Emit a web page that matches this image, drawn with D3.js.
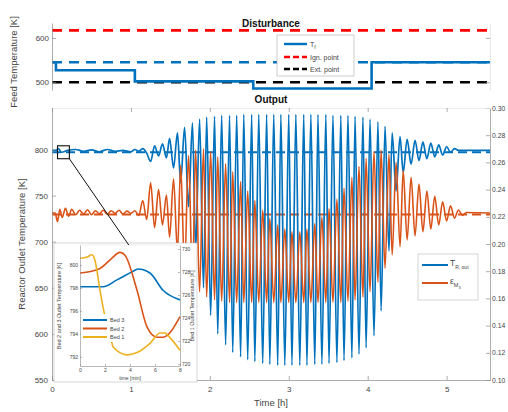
<!DOCTYPE html>
<html><head><meta charset="utf-8">
<script src="https://cdn.jsdelivr.net/npm/d3@7"></script>
<style>body{margin:0;background:#fff;} svg{font-family:"Liberation Sans",Arial,Helvetica,sans-serif;}</style>
</head><body><svg id="c" width="508" height="412"></svg>
<script>
// ---------------- DATA ----------------
// Disturbance panel (feed temperature, K)
const tfTimes  = [0, 0.05, 1.05, 2.55, 4.05, 5.55];
const tfValues = [545, 527, 502, 486, 545, 545];
const ignPoint = 617;
const extPoint = 500;
const tfRef = 545;
const topTicks = [500, 600];

// Output panel
const xTicks = [0, 1, 2, 3, 4, 5];
const leftTicks = [550, 600, 650, 700, 750, 800];
const rightTicks = [0.10, 0.12, 0.14, 0.16, 0.18, 0.20, 0.22, 0.24, 0.26, 0.28, 0.30];
const tempRef = 797;
const convRef = 0.2217;

// T_R,out before the instability
const tempPreTimes = [0,0.05,0.08,0.12,0.2,0.3,0.4,0.5,0.6,0.7,0.8,0.9,1.0,1.05,1.1,1.15,1.2,1.25,1.3,1.35];
const tempPreVals  = [799,799,801,797,799,800,798,799.5,797.5,800,798,799,797.5,800,798,801,796,787,804,793];
// extrema times of the oscillation (shared by both outputs)
const oscTimes = [1.40,1.45,1.49,1.54,1.59,1.63,1.68,1.73,1.78,1.82,1.87,1.92,1.96,2.01,2.06,2.10,2.15,2.20,2.25,2.29,2.34,2.39,2.43,2.48,2.53,2.57,2.62,2.67,2.72,2.76,2.81,2.86,2.90,2.95,3.00,3.04,3.09,3.14,3.19,3.23,3.28,3.33,3.37,3.42,3.47,3.51,3.56,3.61,3.66,3.70,3.75,3.80,3.84,3.89,3.94,3.98,4.03,4.08,4.13,4.17,4.22,4.27,4.31,4.36,4.41,4.45,4.50];
const tempOscVals = [806,791,812,780,818,764,824,738,829,690,833,650,835,620,836,600,837,588,837,580,837,575,838,572,838,570,838,568,838,567,838,566,838,566,838,566,838,566,838,566,838,567,838,567,838,568,837,569,837,571,837,574,836,578,835,585,833,598,830,625,825,690,818,755,814,775,811];
const convOscVals = [0.214,0.236,0.205,0.248,0.194,0.258,0.182,0.265,0.172,0.269,0.165,0.270,0.161,0.268,0.159,0.264,0.158,0.259,0.157,0.253,0.157,0.246,0.157,0.239,0.157,0.232,0.157,0.225,0.157,0.219,0.157,0.214,0.157,0.211,0.157,0.209,0.157,0.209,0.157,0.211,0.157,0.215,0.157,0.220,0.157,0.226,0.157,0.233,0.157,0.241,0.158,0.249,0.159,0.257,0.161,0.263,0.165,0.268,0.172,0.269,0.182,0.266,0.192,0.260,0.198,0.254,0.203];
const tempPostTimes = [4.55,4.60,4.65,4.70,4.75,4.80,4.85,4.90,4.95,5.00,5.05,5.10,5.15,5.55];
const tempPostVals  = [784,810,788,808,790,807,792,805,794,803,797,801,799,799];
// conversion before / after
const convPreTimes = [0,0.04,0.07,0.10,0.13,0.17,0.21,0.25,0.3,0.35,0.4,0.45,0.5,0.55,0.6,0.65,0.7,0.75,0.8,0.85,0.9,0.95,1.0,1.05,1.1,1.15,1.2,1.25,1.3,1.35];
const convPreVals  = [0.2228,0.2228,0.2165,0.2255,0.2195,0.2262,0.2205,0.2255,0.2215,0.2248,0.222,0.2252,0.2215,0.2245,0.2222,0.2248,0.2218,0.2245,0.2225,0.2248,0.222,0.2242,0.2225,0.2245,0.221,0.232,0.218,0.245,0.212,0.240];
const convPostTimes = [4.55,4.60,4.65,4.70,4.75,4.80,4.85,4.90,4.95,5.00,5.05,5.10,5.15,5.20,5.25,5.55];
const convPostVals  = [0.249,0.206,0.244,0.209,0.239,0.211,0.235,0.214,0.231,0.217,0.228,0.219,0.225,0.221,0.2232,0.2228];

// zoom window
const zoomT = [0.07, 0.22];
const zoomTemp = [790, 804];

// Inset (time in minutes)
const insetTicksX = [0, 2, 4, 6, 8];
const insetTicksL = [792, 794, 796, 798, 800];
const insetTicksR = [720, 722, 724, 726, 728, 730];
const bed3Times = [0,1.84,2.96,4.16,4.64,5.6,6.64,8];
const bed3Vals  = [798.1,798.1,798.7,799.4,799.65,799.3,797.8,796.96];
const bed2Times = [0,1.6,2.56,3.2,3.6,4.56,5.36,6.16,6.64,8];
const bed2Vals  = [799.3,799.7,800.6,801.1,800.85,797.8,794.6,793.7,793.7,795.5];
const bed1Times = [0,0.56,0.96,1.2,1.6,2.0,2.5,2.64,3.76,4.56,5.6,6.4,6.8,7.2,8];
const bed1Vals  = [729.2,729.3,729.5,729.0,726.4,724.1,722.1,721.5,720.8,721.0,721.8,722.7,722.7,722.3,721.2];

// ---------------- DRAW ----------------
const BLUE = "#0072BD", ORANGE = "#D95319", YELLOW = "#EDB120";
const AX = "#8a8a8a", TX = "#444";
const svg = d3.select("#c");
const zip = (a, b) => a.map((d, i) => [d, b[i]]);

// ---- top panel ----
const xT = d3.scaleLinear([0, 5.55], [52, 490]);
const yT = d3.scaleLinear([482.5, 633.6], [90, 23]);
const lT = d3.line().x(d => xT(d[0])).y(d => yT(d[1]));
const topG = svg.append("g");
const hline = (v, col, dash) => topG.append("path").datum([[0, v], [5.55, v]]).attr("d", lT)
  .attr("fill", "none").attr("stroke", col).attr("stroke-width", 2.6).attr("stroke-dasharray", dash);
hline(ignPoint, "#FF0000", "10,7");
hline(tfRef, BLUE, "10,7");
hline(extPoint, "#000", "10,7");
const lTs = d3.line().x(d => xT(d[0])).y(d => yT(d[1])).curve(d3.curveStepAfter);
topG.append("path").datum(zip(tfTimes, tfValues)).attr("d", lTs)
  .attr("fill", "none").attr("stroke", BLUE).attr("stroke-width", 2.6);
// axes
const gTL = topG.append("g").attr("transform", "translate(52,0)")
  .call(d3.axisLeft(yT).tickValues(topTicks).tickSize(-4).tickPadding(3).tickSizeOuter(0));
const gTR = topG.append("g").attr("transform", "translate(490,0)")
  .call(d3.axisRight(yT).tickValues(topTicks).tickSize(-4).tickFormat("").tickSizeOuter(0));
[gTL, gTR].forEach(g => { g.selectAll("path,line").attr("stroke", AX).attr("stroke-width", 0.7);
  g.selectAll("text").attr("fill", TX).attr("font-size", 8).attr("font-family", "Liberation Sans, Arial"); });
gTR.select(".domain").attr("stroke", "#ddd");
svg.append("text").attr("x", 271).attr("y", 27).attr("text-anchor", "middle")
  .attr("font-weight", "bold").attr("font-size", 10).attr("fill", "#111").text("Disturbance");
svg.append("text").attr("transform", "translate(17,62) rotate(-90)").attr("text-anchor", "middle")
  .attr("font-size", 9.5).attr("fill", TX).text("Feed Temperature [K]");
// top legend
const lg = svg.append("g");
lg.append("rect").attr("x", 277).attr("y", 35).attr("width", 77).attr("height", 41)
  .attr("fill", "#fff").attr("stroke", "#aaa").attr("stroke-width", 0.6);
const topLeg = [["T", "f", BLUE, null], ["Ign. point", "", "#FF0000", "6,3"], ["Ext. point", "", "#000", "6,3"]];
const topLegY = [44, 57, 69];
topLeg.forEach((e, i) => {
  lg.append("line").attr("x1", 284).attr("x2", 307).attr("y1", topLegY[i]).attr("y2", topLegY[i])
    .attr("stroke", e[2]).attr("stroke-width", 2.4).attr("stroke-dasharray", e[3]);
  const t = lg.append("text").attr("x", 310).attr("y", topLegY[i] + 2.5).attr("font-size", 7).attr("fill", TX).text(e[0]);
  if (e[1]) t.append("tspan").attr("font-size", 5).attr("dy", 2).text(e[1]);
});

// ---- main panel ----
const x = d3.scaleLinear([0, 5.55], [52, 490]);
const yL = d3.scaleLinear([550, 845], [380, 108]);
const yR = d3.scaleLinear([0.10, 0.30], [380, 108]);
svg.append("defs").append("clipPath").attr("id", "clipM").append("rect")
  .attr("x", 52).attr("y", 108).attr("width", 438).attr("height", 272);
const mainG = svg.append("g").attr("clip-path", "url(#clipM)");
const lineL = d3.line().x(d => x(d[0])).y(d => yL(d[1])).curve(d3.curveMonotoneX);
const lineR = d3.line().x(d => x(d[0])).y(d => yR(d[1])).curve(d3.curveMonotoneX);
mainG.append("path").datum([[0, tempRef], [5.55, tempRef]]).attr("d", lineL)
  .attr("stroke", BLUE).attr("stroke-width", 1.9).attr("stroke-dasharray", "9,5").attr("fill", "none");
mainG.append("path").datum([[0, convRef], [5.55, convRef]]).attr("d", lineR)
  .attr("stroke", ORANGE).attr("stroke-width", 1.9).attr("stroke-dasharray", "9,5").attr("fill", "none");
const tempSeries = zip(tempPreTimes, tempPreVals).concat(zip(oscTimes, tempOscVals), zip(tempPostTimes, tempPostVals));
const convSeries = zip(convPreTimes, convPreVals).concat(zip(oscTimes, convOscVals), zip(convPostTimes, convPostVals));
mainG.append("path").datum(tempSeries).attr("d", lineL).attr("fill", "none").attr("stroke", BLUE).attr("stroke-width", 1.7);
mainG.append("path").datum(convSeries).attr("d", lineR).attr("fill", "none").attr("stroke", ORANGE).attr("stroke-width", 1.6);

// axes
const styleAx = g => { g.selectAll("path,line").attr("stroke", AX).attr("stroke-width", 0.7);
  g.selectAll("text").attr("fill", TX).attr("font-size", 8).attr("font-family", "Liberation Sans, Arial"); };
svg.append("g").attr("transform", "translate(52,0)")
  .call(d3.axisLeft(yL).tickValues(leftTicks).tickSize(-4).tickPadding(4).tickSizeOuter(0)).call(styleAx);
const gR = svg.append("g").attr("transform", "translate(490,0)")
  .call(d3.axisRight(yR).tickValues(rightTicks).tickSize(-4).tickPadding(2).tickSizeOuter(0).tickFormat(d3.format(".2f"))).call(styleAx);
gR.selectAll("text").attr("font-size", 6.8);
svg.append("g").attr("transform", "translate(0,380)")
  .call(d3.axisBottom(x).tickValues(xTicks).tickSize(-4).tickPadding(6).tickSizeOuter(0).tickFormat(d3.format("d"))).call(styleAx);
const gTop = svg.append("g").attr("transform", "translate(0,108)")
  .call(d3.axisTop(x).tickValues(xTicks).tickSize(-4).tickFormat("").tickSizeOuter(0)).call(styleAx);
gTop.select(".domain").attr("stroke", "#e4e4e4");
svg.append("text").attr("x", 271).attr("y", 103).attr("text-anchor", "middle")
  .attr("font-weight", "bold").attr("font-size", 10).attr("fill", "#111").text("Output");
svg.append("text").attr("transform", "translate(25,244) rotate(-90)").attr("text-anchor", "middle")
  .attr("font-size", 9.5).attr("fill", TX).text("Reactor Outlet Temperature [K]");
svg.append("text").attr("x", 271).attr("y", 406).attr("text-anchor", "middle")
  .attr("font-size", 9.5).attr("fill", TX).text("Time [h]");

// zoom box
svg.append("rect").attr("x", x(zoomT[0])).attr("y", yL(zoomTemp[1]))
  .attr("width", x(zoomT[1]) - x(zoomT[0])).attr("height", yL(zoomTemp[0]) - yL(zoomTemp[1]))
  .attr("fill", "none").attr("stroke", "#111").attr("stroke-width", 1.1);

// ---- inset ----
const xi = d3.scaleLinear([0, 8], [80, 180]);
const yiL = d3.scaleLinear([791.2, 801.74], [366, 245]);
const yiR = d3.scaleLinear([719.83, 730.35], [366, 245]);
const ins = svg.append("g");
ins.append("rect").attr("x", 54).attr("y", 243).attr("width", 143).attr("height", 139)
  .attr("fill", "#fff").attr("stroke", "#bbb").attr("stroke-width", 0.6);
svg.append("line").attr("x1", x(zoomT[1])).attr("y1", yL(zoomTemp[0]))
  .attr("x2", xi(3.9)).attr("y2", 245).attr("stroke", "#111").attr("stroke-width", 1);
const liL = d3.line().x(d => xi(d[0])).y(d => yiL(d[1])).curve(d3.curveMonotoneX);
const liR = d3.line().x(d => xi(d[0])).y(d => yiR(d[1])).curve(d3.curveMonotoneX);
ins.append("path").datum(zip(bed3Times, bed3Vals)).attr("d", liL).attr("fill", "none").attr("stroke", BLUE).attr("stroke-width", 1.6);
ins.append("path").datum(zip(bed2Times, bed2Vals)).attr("d", liL).attr("fill", "none").attr("stroke", ORANGE).attr("stroke-width", 1.6);
ins.append("path").datum(zip(bed1Times, bed1Vals)).attr("d", liR).attr("fill", "none").attr("stroke", YELLOW).attr("stroke-width", 1.6);
const styleIn = g => { g.selectAll("path,line").attr("stroke", AX).attr("stroke-width", 0.6);
  g.selectAll("text").attr("fill", TX).attr("font-size", 5).attr("font-family", "Liberation Sans, Arial"); };
ins.append("g").attr("transform", "translate(80,0)")
  .call(d3.axisLeft(yiL).tickValues(insetTicksL).tickSize(-2).tickPadding(2).tickSizeOuter(0)).call(styleIn);
ins.append("g").attr("transform", "translate(180,0)")
  .call(d3.axisRight(yiR).tickValues(insetTicksR).tickSize(-2).tickPadding(2).tickSizeOuter(0)).call(styleIn);
ins.append("g").attr("transform", "translate(0,366)")
  .call(d3.axisBottom(xi).tickValues(insetTicksX).tickSize(-2).tickPadding(2).tickSizeOuter(0)).call(styleIn);
ins.append("line").attr("x1", 80).attr("x2", 180).attr("y1", 245).attr("y2", 245).attr("stroke", "#ddd").attr("stroke-width", 0.5);
ins.append("text").attr("x", 130).attr("y", 380).attr("text-anchor", "middle").attr("font-size", 5).attr("fill", TX).text("time [min]");
ins.append("text").attr("transform", "translate(61,306) rotate(-90)").attr("text-anchor", "middle")
  .attr("font-size", 5.5).attr("fill", TX).text("Bed 2 and 3 Outlet Temperature [K]");
ins.append("text").attr("transform", "translate(194,306) rotate(-90)").attr("text-anchor", "middle")
  .attr("font-size", 5.5).attr("fill", TX).text("Bed 1 Outlet Temperature [K]");
// inset legend
ins.append("rect").attr("x", 81).attr("y", 314).attr("width", 44).attr("height", 28).attr("fill", "#fff");
const inLeg = [["Bed 3", BLUE], ["Bed 2", ORANGE], ["Bed 1", YELLOW]];
inLeg.forEach((e, i) => {
  const yy = 320 + i * 8.5;
  ins.append("line").attr("x1", 83).attr("x2", 107).attr("y1", yy).attr("y2", yy).attr("stroke", e[1]).attr("stroke-width", 2);
  ins.append("text").attr("x", 110).attr("y", yy + 2).attr("font-size", 5.5).attr("fill", TX).text(e[0]);
});

// main legend
const ml = svg.append("g");
ml.append("rect").attr("x", 418).attr("y", 254).attr("width", 60).attr("height", 46)
  .attr("fill", "#fff").attr("stroke", "#bbb").attr("stroke-width", 0.6);
ml.append("line").attr("x1", 422).attr("x2", 448).attr("y1", 265).attr("y2", 265).attr("stroke", BLUE).attr("stroke-width", 2);
ml.append("line").attr("x1", 422).attr("x2", 448).attr("y1", 283).attr("y2", 283).attr("stroke", ORANGE).attr("stroke-width", 2);
const t1 = ml.append("text").attr("x", 450).attr("y", 266).attr("font-size", 8.5).attr("fill", TX).text("T");
t1.append("tspan").attr("font-size", 5).attr("dy", 3).text("R, out");
const t2 = ml.append("text").attr("x", 450).attr("y", 284).attr("font-size", 8.5).attr("fill", TX).text("ε");
t2.append("tspan").attr("font-size", 5.5).attr("dy", 3).text("M");
t2.append("tspan").attr("font-size", 4).attr("dy", 1.5).text("3");
</script></body></html>
